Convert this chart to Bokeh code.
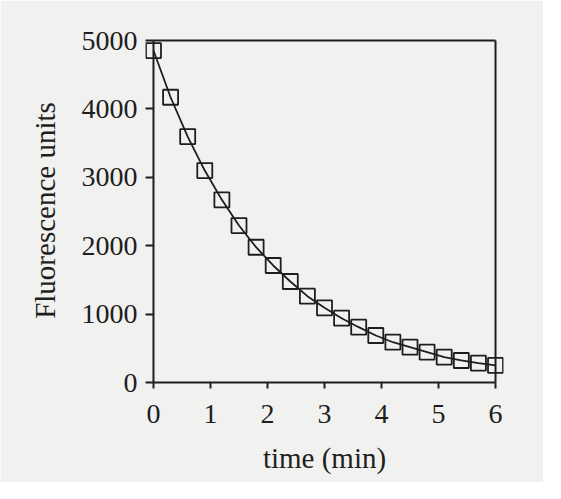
from bokeh.plotting import figure
from bokeh.models import Range1d, LinearAxis, FixedTicker
from bokeh.embed import file_html
from bokeh.resources import INLINE

# data
time_min = [0.0, 0.3, 0.6, 0.9, 1.2, 1.5, 1.8, 2.1, 2.4, 2.7, 3.0,
            3.3, 3.6, 3.9, 4.2, 4.5, 4.8, 5.1, 5.4, 5.7, 6.0]
fluorescence = [4854, 4171, 3596, 3099, 2671, 2295, 1978, 1711, 1477, 1262, 1092,
                940, 809, 687, 589, 516, 443, 370, 322, 282, 249]
x_ticks = [0, 1, 2, 3, 4, 5, 6]
y_ticks = [0, 1000, 2000, 3000, 4000, 5000]
x_max = 6
y_max = 5000

BG = "#f1f1ef"
INK = "#1e1e1e"
FONT = "Liberation Serif"

p = figure(width=543, height=482, output_backend="svg", toolbar_location=None,
           x_range=Range1d(-0.14, 6.14), y_range=Range1d(0, 5030),
           frame_width=358, frame_height=344,
           min_border_left=145, min_border_top=38, min_border_right=40, min_border_bottom=100,
           x_axis_location=None, y_axis_location=None)
p.background_fill_color = BG
p.border_fill_color = BG
p.outline_line_color = None
p.xgrid.grid_line_color = None
p.ygrid.grid_line_color = None

def style_axis(ax):
    ax.axis_line_color = INK
    ax.axis_line_width = 2
    ax.major_tick_line_color = INK
    ax.major_tick_line_width = 2
    ax.major_tick_out = 6
    ax.major_tick_in = 0
    ax.minor_tick_line_color = None
    ax.major_label_text_font = FONT
    ax.major_label_text_font_size = "28px"
    ax.major_label_text_color = INK
    ax.axis_label_text_font = FONT
    ax.axis_label_text_font_size = "29px"
    ax.axis_label_text_font_style = "normal"
    ax.axis_label_text_color = INK

xaxis = LinearAxis(ticker=FixedTicker(ticks=x_ticks), bounds=(0, x_max), axis_label="time (min)")
style_axis(xaxis)
xaxis.major_label_standoff = 16
xaxis.axis_label_standoff = 16
p.add_layout(xaxis, "below")

yaxis = LinearAxis(ticker=FixedTicker(ticks=y_ticks), bounds=(0, y_max),
                   axis_label="Fluorescence units")
style_axis(yaxis)
yaxis.axis_line_color = None
yaxis.major_tick_in = 8
yaxis.major_tick_out = 0
yaxis.major_label_standoff = 8
yaxis.axis_label_standoff = 18
p.add_layout(yaxis, "left")

# left axis line at x=0, top and right borders of the box
p.segment(x0=[0, 0, x_max], y0=[0, y_max, 0], x1=[0, x_max, x_max], y1=[y_max, y_max, y_max],
          line_color=INK, line_width=2)

p.line(time_min, fluorescence, line_color=INK, line_width=1.8)
p.scatter(time_min, fluorescence, marker="square", size=15, fill_alpha=0,
          line_color=INK, line_width=1.8)

open("out.html", "w").write(file_html(p, INLINE))
